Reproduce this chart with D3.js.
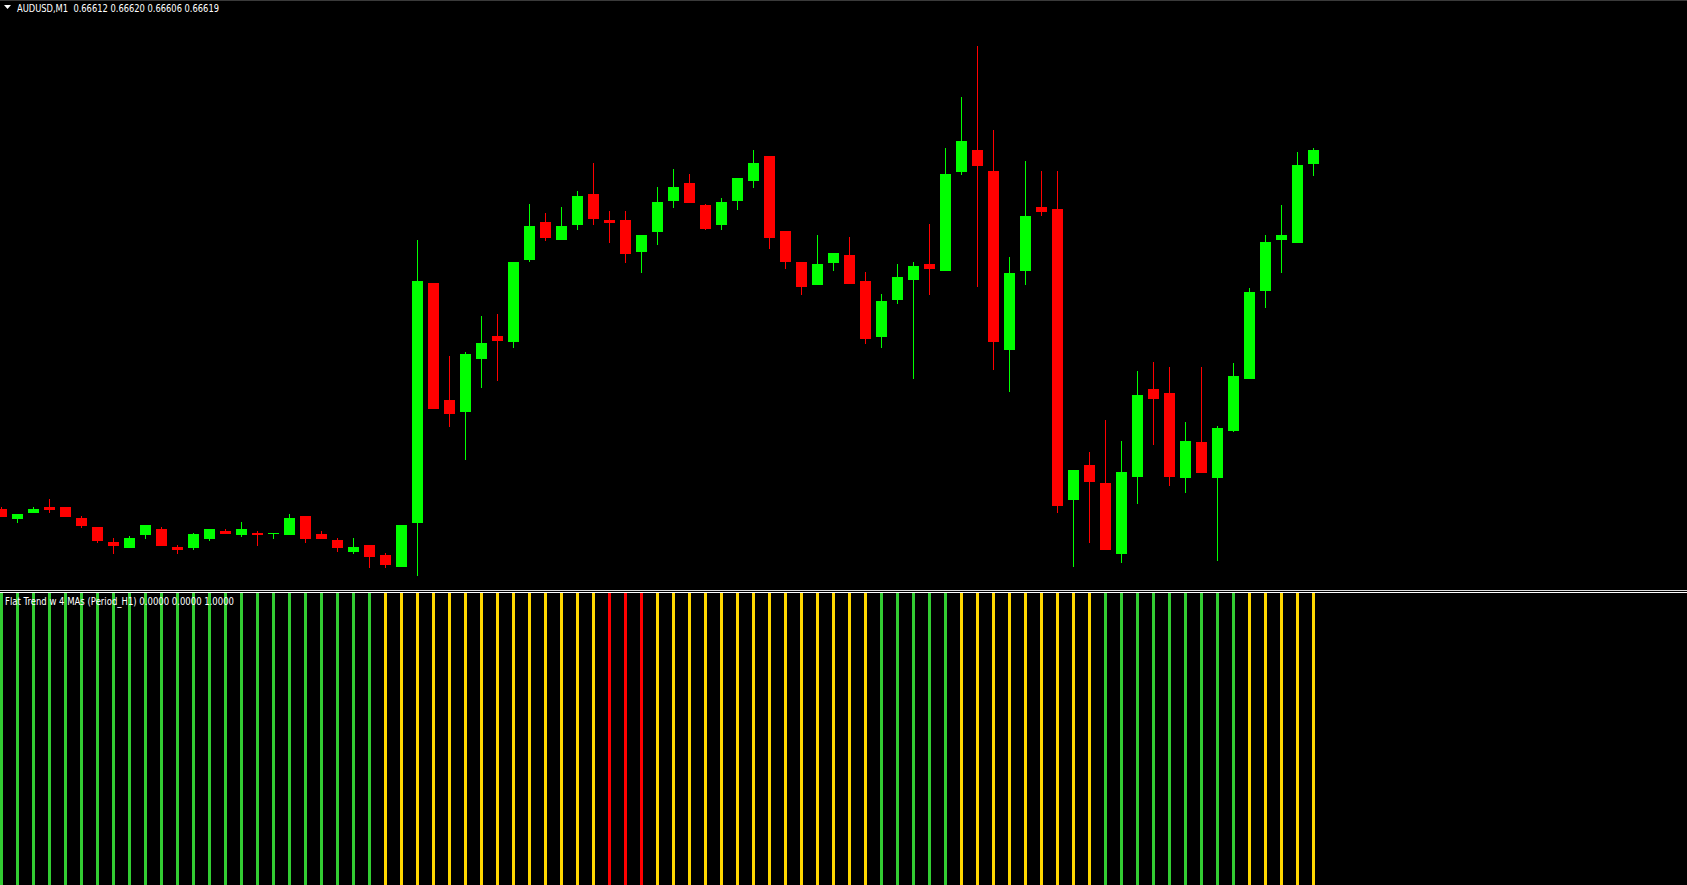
<!DOCTYPE html>
<html>
<head>
<meta charset="utf-8">
<script src="https://cdn.jsdelivr.net/npm/d3@7/dist/d3.min.js"></script>
<style>
html,body{margin:0;padding:0;background:#000;overflow:hidden;}
svg{display:block;}
</style>
</head>
<body>
<script>
const symbol = "AUDUSD,M1";
const indicatorName = "Flat Trend w 4 MAs (Period_H1)";
const indicatorValues = [0.0, 0.0, 1.0];

const opens = [
0.664395,0.664345,0.664375,0.664405,0.664405,0.664350,0.664305,0.664230,0.664200,0.664265,
0.664295,0.664205,0.664200,0.664245,0.664285,0.664265,0.664275,0.664270,0.664265,0.664360,
0.664270,0.664240,0.664180,0.664215,0.664165,0.664105,0.664325,0.665525,0.664940,0.664880,
0.665145,0.665260,0.665230,0.665640,0.665830,0.665740,0.665815,0.665970,0.665840,0.665840,
0.665680,0.665780,0.665935,0.666025,0.665915,0.665815,0.665935,0.666035,0.666160,0.665785,
0.665630,0.665515,0.665625,0.665665,0.665535,0.665255,0.665440,0.665540,0.665620,0.665585,
0.666080,0.666190,0.666085,0.665190,0.665585,0.665905,0.665895,0.664440,0.664615,0.664525,
0.664170,0.664555,0.664995,0.664975,0.664550,0.664730,0.664550,0.664785,0.665045,0.665485,
0.665740,0.665725,0.666120];
const highs = [
0.664405,0.664370,0.664405,0.664445,0.664405,0.664360,0.664305,0.664250,0.664260,0.664315,
0.664305,0.664215,0.664275,0.664295,0.664295,0.664330,0.664285,0.664275,0.664370,0.664360,
0.664285,0.664250,0.664250,0.664215,0.664175,0.664315,0.665740,0.665525,0.665160,0.665180,
0.665360,0.665370,0.665630,0.665920,0.665875,0.665905,0.665985,0.666125,0.665885,0.665885,
0.665765,0.666005,0.666095,0.666070,0.665920,0.665950,0.666050,0.666190,0.666160,0.665785,
0.665630,0.665765,0.665675,0.665755,0.665580,0.665470,0.665620,0.665630,0.665820,0.666200,
0.666455,0.666710,0.666290,0.665655,0.666135,0.666085,0.666085,0.664590,0.664680,0.664840,
0.664735,0.665085,0.665130,0.665105,0.664830,0.665105,0.664810,0.665125,0.665500,0.665765,
0.665915,0.666180,0.666200];
const lows = [
0.664355,0.664325,0.664375,0.664375,0.664355,0.664300,0.664225,0.664170,0.664200,0.664245,
0.664210,0.664170,0.664190,0.664235,0.664270,0.664255,0.664210,0.664245,0.664265,0.664225,
0.664245,0.664180,0.664170,0.664100,0.664100,0.664105,0.664060,0.664895,0.664805,0.664640,
0.665000,0.665035,0.665200,0.665630,0.665735,0.665740,0.665790,0.665815,0.665725,0.665625,
0.665575,0.665715,0.665900,0.665925,0.665790,0.665790,0.665890,0.666000,0.665695,0.665595,
0.665465,0.665515,0.665585,0.665520,0.665220,0.665200,0.665420,0.665045,0.665465,0.665585,
0.666065,0.665505,0.665090,0.664980,0.665515,0.665860,0.664375,0.664105,0.664225,0.664190,
0.664125,0.664420,0.664715,0.664510,0.664475,0.664575,0.664135,0.664780,0.665045,0.665400,
0.665575,0.665725,0.666060];
const closes = [
0.664355,0.664370,0.664395,0.664390,0.664355,0.664310,0.664235,0.664210,0.664250,0.664315,
0.664210,0.664190,0.664270,0.664295,0.664270,0.664295,0.664265,0.664275,0.664350,0.664245,
0.664245,0.664200,0.664205,0.664155,0.664115,0.664315,0.665535,0.664895,0.664870,0.665170,
0.665225,0.665235,0.665630,0.665810,0.665750,0.665810,0.665960,0.665845,0.665825,0.665670,
0.665765,0.665930,0.666005,0.665925,0.665795,0.665930,0.666050,0.666125,0.665750,0.665630,
0.665505,0.665620,0.665675,0.665520,0.665245,0.665435,0.665555,0.665610,0.665595,0.666070,
0.666235,0.666110,0.665230,0.665575,0.665860,0.665880,0.664410,0.664590,0.664530,0.664190,
0.664580,0.664965,0.664945,0.664555,0.664735,0.664575,0.664800,0.665060,0.665480,0.665730,
0.665765,0.666115,0.666190];

// Flat Trend indicator state per bar
const trend = [
"up","up","up","up","up","up","up","up","up","up",
"up","up","up","up","up","up","up","up","up","up",
"up","up","up","up","flat","flat","flat","flat","flat","flat",
"flat","flat","flat","flat","flat","flat","flat","flat","down","down",
"down","flat","flat","flat","flat","flat","flat","flat","flat","flat",
"flat","flat","flat","flat","flat","up","up","up","up","up",
"flat","flat","flat","flat","flat","flat","flat","flat","flat","up",
"up","up","up","up","up","up","up","up","flat","flat",
"flat","flat","flat"];

const W = 1687, H = 885;
const mainBottom = 590, subTop = 593;
const trendColor = {up:"#32cd32", flat:"#ffd700", down:"#ff0000"};
const bull = "#00ff00", bear = "#ff0000";

const bars = opens.map((o,i)=>({i, o, h:highs[i], l:lows[i], c:closes[i], t:trend[i]}));

const svg = d3.select("body").append("svg").attr("width",W).attr("height",H);
svg.append("rect").attr("width",W).attr("height",H).attr("fill","#000");

const x = d3.scaleLinear().domain([0, bars.length-1]).range([1.5, 1.5 + 16*(bars.length-1)]);
const y = d3.scaleLinear().domain([0.66399, 0.66694]).range([mainBottom, 0]);

// top border
svg.append("rect").attr("x",0).attr("y",0).attr("width",W).attr("height",1).attr("fill","#3a3a3a");

const main = svg.append("g");
// wicks
main.selectAll("rect.wick").data(bars).join("rect").attr("class","wick")
  .attr("x", d=>x(d.i)-0.5).attr("width",1)
  .attr("y", d=>y(d.h)).attr("height", d=>Math.max(1, y(d.l)-y(d.h)))
  .attr("fill", d=> d.c>=d.o ? bull : bear);
// bodies
main.selectAll("rect.body").data(bars).join("rect").attr("class","body")
  .attr("x", d=>x(d.i)-5.5).attr("width",11)
  .attr("y", d=>y(Math.max(d.o,d.c)))
  .attr("height", d=>Math.max(1, Math.abs(y(d.o)-y(d.c))))
  .attr("fill", d=> d.c>=d.o ? bull : bear);

// separator
svg.append("rect").attr("x",0).attr("y",mainBottom).attr("width",W).attr("height",1).attr("fill","#d8d8d8");
svg.append("rect").attr("x",0).attr("y",mainBottom+2).attr("width",W).attr("height",1).attr("fill","#ffffff");

// indicator histogram
const yi = d3.scaleLinear().domain([0,1]).range([H, subTop]);
svg.append("g").selectAll("rect").data(bars).join("rect")
  .attr("x", d=>x(d.i)-1.5).attr("width",3)
  .attr("y", yi(1)).attr("height", yi(0)-yi(1))
  .attr("fill", d=>trendColor[d.t]);

// title
const last = bars[bars.length-1];
const f5 = d3.format(".5f");
svg.append("path").attr("d","M4,5 L11,5 L7.5,9 Z").attr("fill","#fff");
svg.append("text").attr("x",17).attr("y",12)
  .attr("fill","#fff").attr("font-family","DejaVu Sans, Liberation Sans, sans-serif").attr("font-size",11)
  .attr("textLength",202).attr("lengthAdjust","spacingAndGlyphs")
  .style("white-space","pre")
  .text(`${symbol}  ${f5(last.o)} ${f5(last.h)} ${f5(last.l)} ${f5(last.c)}`);

const f4 = d3.format(".4f");
svg.append("text").attr("x",5).attr("y",605)
  .attr("fill","#fff").attr("font-family","DejaVu Sans, Liberation Sans, sans-serif").attr("font-size",11)
  .attr("textLength",229).attr("lengthAdjust","spacingAndGlyphs")
  .style("white-space","pre")
  .text(`${indicatorName} ${indicatorValues.map(f4).join(" ")}`);
</script>
</body>
</html>
